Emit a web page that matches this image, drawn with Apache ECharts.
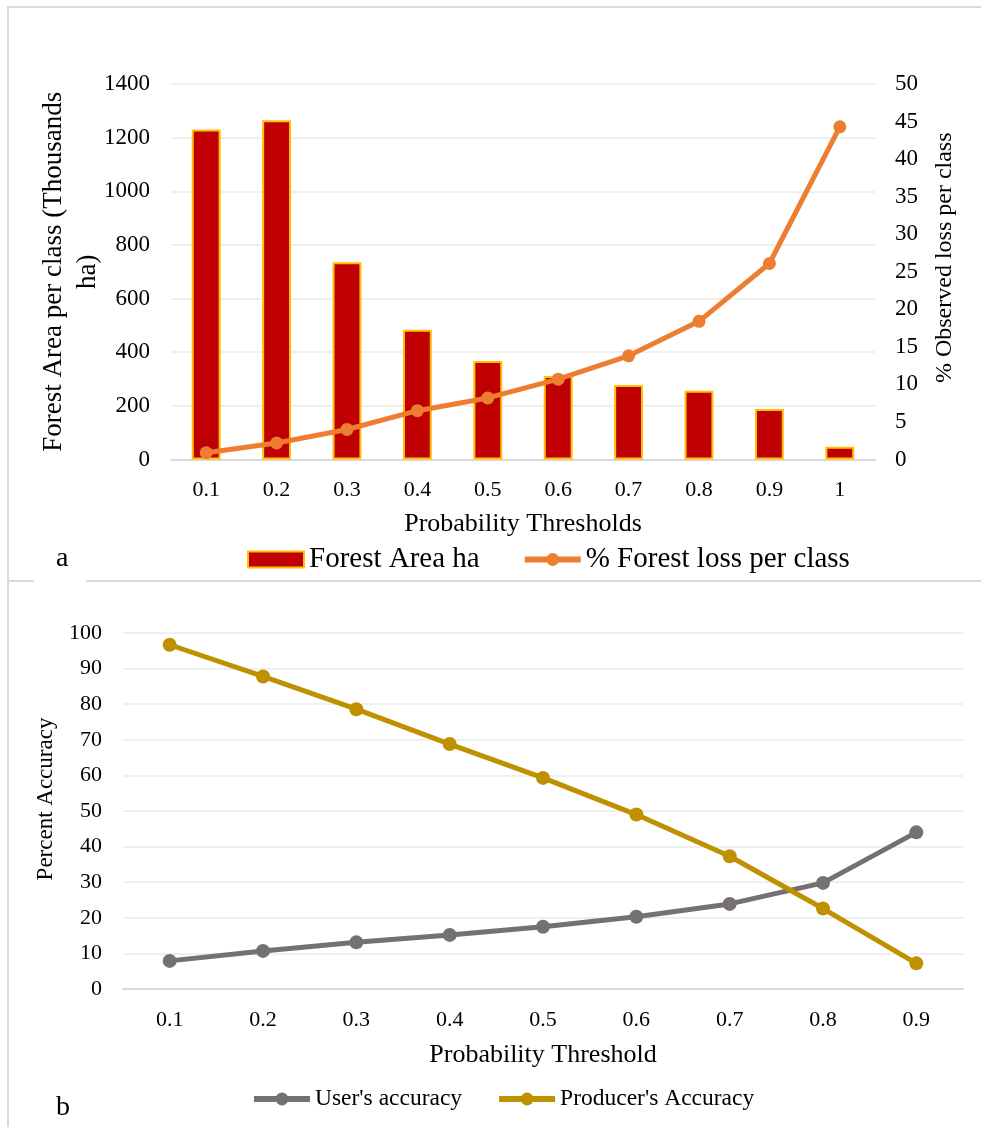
<!DOCTYPE html>
<html>
<head>
<meta charset="utf-8">
<title>Forest area and accuracy by probability threshold</title>
<script src="https://cdn.jsdelivr.net/npm/echarts@6/dist/echarts.min.js"></script>
<style>
  html, body { margin: 0; padding: 0; background: #fff; }
  #chart { width: 981px; height: 1127px; }
</style>
</head>
<body>
<div id="chart"></div>
<script>
// panel a data
const thresholdsA = ['0.1', '0.2', '0.3', '0.4', '0.5', '0.6', '0.7', '0.8', '0.9', '1'];
const forestArea = [1230, 1265, 735, 484, 367, 311, 278, 256, 188, 48];
const forestLossPct = [0.9, 2.2, 4.0, 6.5, 8.2, 10.7, 13.8, 18.4, 26.1, 44.3];

// panel b data
const thresholdsB = ['0.1', '0.2', '0.3', '0.4', '0.5', '0.6', '0.7', '0.8', '0.9'];
const usersAccuracy = [7.9, 10.7, 13.1, 15.2, 17.5, 20.3, 23.9, 29.8, 44.0];
const producersAccuracy = [96.7, 87.8, 78.6, 68.8, 59.3, 49.0, 37.3, 22.6, 7.2];

const FONT = '"Liberation Serif", "Times New Roman", serif';
const TXT = '#000';
const GRID_LINE = '#efefef';
const AXIS_LINE = '#d9d9d9';

// plain numbers, no thousands separator
const plain = v => String(v);

const chart = echarts.init(document.getElementById('chart'), null, { renderer: 'canvas' });

const option = {
  animation: false,
  backgroundColor: '#fff',
  textStyle: { fontFamily: FONT, color: TXT },
  grid: [
    { left: 171, top: 84, width: 704, height: 375.5 },
    { left: 123, top: 633, width: 840, height: 356 }
  ],
  legend: [
    {
      left: 242, top: 540,
      itemWidth: 56, itemHeight: 16, itemGap: 42,
      textStyle: { fontFamily: FONT, fontSize: 29, color: TXT },
      lineStyle: { width: 6 },
      data: [{ name: 'Forest Area ha', icon: 'rect' }, '% Forest loss per class']
    },
    {
      left: 246, top: 1082,
      itemWidth: 56, itemHeight: 16, itemGap: 34,
      textStyle: { fontFamily: FONT, fontSize: 23.5, color: TXT },
      lineStyle: { width: 6 },
      data: ["User's accuracy", "Producer's Accuracy"]
    }
  ],
  xAxis: [
    {
      type: 'category', gridIndex: 0, data: thresholdsA,
      name: 'Probability Thresholds', nameLocation: 'middle', nameGap: 52,
      nameTextStyle: { fontFamily: FONT, fontSize: 26, color: TXT },
      axisLine: { lineStyle: { color: AXIS_LINE, width: 2 } },
      axisTick: { show: false },
      axisLabel: { margin: 20, fontFamily: FONT, fontSize: 22, color: TXT }
    },
    {
      type: 'category', gridIndex: 1, data: thresholdsB,
      name: 'Probability Threshold', nameLocation: 'middle', nameGap: 53,
      nameTextStyle: { fontFamily: FONT, fontSize: 26, color: TXT },
      axisLine: { lineStyle: { color: AXIS_LINE, width: 2 } },
      axisTick: { show: false },
      axisLabel: { margin: 20, fontFamily: FONT, fontSize: 22, color: TXT }
    }
  ],
  yAxis: [
    {
      type: 'value', gridIndex: 0, min: 0, max: 1400, interval: 200,
      name: 'Forest Area per class (Thousands\nha)', nameLocation: 'middle', nameGap: 66, nameRotate: 90,
      nameMoveOverlap: false,
      nameTextStyle: { fontFamily: FONT, fontSize: 27, color: TXT, lineHeight: 34 },
      axisLine: { show: false },
      axisTick: { show: false },
      splitLine: { lineStyle: { color: GRID_LINE, width: 2 } },
      axisLabel: { margin: 21, fontFamily: FONT, fontSize: 23, color: TXT, formatter: plain }
    },
    {
      type: 'value', gridIndex: 0, position: 'right', min: 0, max: 50, interval: 5,
      name: '% Observed loss per class', nameLocation: 'middle', nameGap: 58, nameRotate: 90,
      nameMoveOverlap: false,
      nameTextStyle: { fontFamily: FONT, fontSize: 24, color: TXT, padding: [0, 0, 0, 28] },
      axisLine: { show: false },
      axisTick: { show: false },
      splitLine: { show: false },
      axisLabel: { margin: 20, fontFamily: FONT, fontSize: 23, color: TXT }
    },
    {
      type: 'value', gridIndex: 1, min: 0, max: 100, interval: 10,
      name: 'Percent Accuracy', nameLocation: 'middle', nameGap: 66, nameRotate: 90,
      nameMoveOverlap: false,
      nameTextStyle: { fontFamily: FONT, fontSize: 23, color: TXT, padding: [0, 0, 0, 24] },
      axisLine: { show: false },
      axisTick: { show: false },
      splitLine: { lineStyle: { color: GRID_LINE, width: 2 } },
      axisLabel: { margin: 21, fontFamily: FONT, fontSize: 22, color: TXT }
    }
  ],
  series: [
    {
      name: 'Forest Area ha', type: 'bar', xAxisIndex: 0, yAxisIndex: 0,
      data: forestArea, barWidth: '41%',
      itemStyle: { color: '#c00000', borderColor: '#ffc000', borderWidth: 2 }
    },
    {
      name: '% Forest loss per class', type: 'line', xAxisIndex: 0, yAxisIndex: 1,
      data: forestLossPct, symbol: 'circle', symbolSize: 13,
      itemStyle: { color: '#ed7d31' },
      lineStyle: { color: '#ed7d31', width: 5 }
    },
    {
      name: "User's accuracy", type: 'line', xAxisIndex: 1, yAxisIndex: 2,
      data: usersAccuracy, symbol: 'circle', symbolSize: 14,
      itemStyle: { color: '#767171' },
      lineStyle: { color: '#767171', width: 5 }
    },
    {
      name: "Producer's Accuracy", type: 'line', xAxisIndex: 1, yAxisIndex: 2,
      data: producersAccuracy, symbol: 'circle', symbolSize: 14,
      itemStyle: { color: '#bf9000' },
      lineStyle: { color: '#bf9000', width: 5 }
    }
  ],
  // panel frames and the a / b labels
  graphic: [
    { type: 'rect', z: -1, shape: { x: 8, y: 7, width: 990, height: 574 }, style: { fill: 'none', stroke: AXIS_LINE, lineWidth: 2 } },
    { type: 'rect', z: -1, shape: { x: 8, y: 581, width: 990, height: 560 }, style: { fill: 'none', stroke: AXIS_LINE, lineWidth: 2 } },
    { type: 'rect', z: 0, shape: { x: 34, y: 546, width: 52, height: 38 }, style: { fill: '#fff' } },
    { type: 'text', z: 1, left: 56, top: 545, style: { text: 'a', font: '28px ' + FONT, fill: TXT } },
    { type: 'text', z: 1, left: 56, top: 1094, style: { text: 'b', font: '28px ' + FONT, fill: TXT } }
  ]
};

chart.setOption(option);
</script>
</body>
</html>
